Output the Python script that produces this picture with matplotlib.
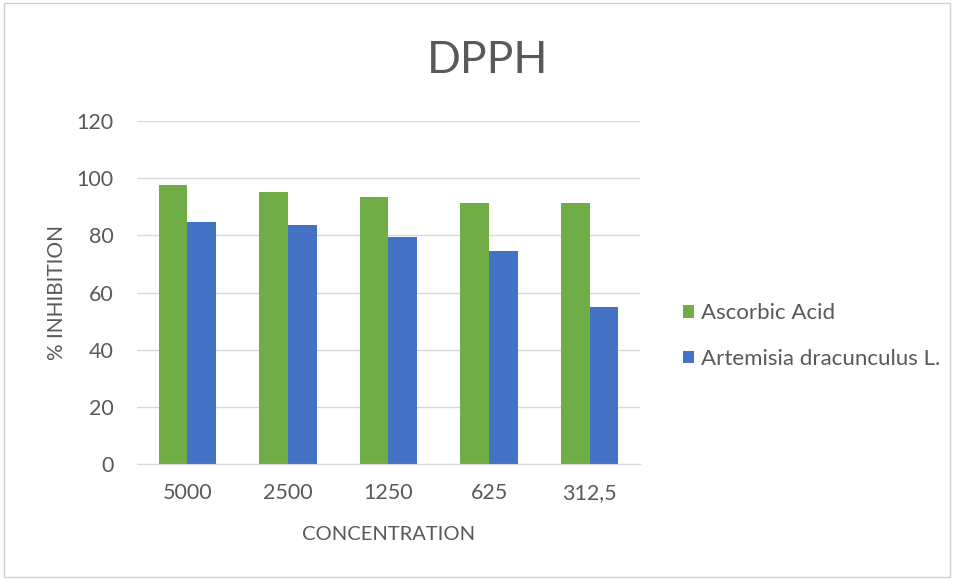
import matplotlib.pyplot as plt
import numpy as np
from matplotlib.patches import Rectangle

plt.rcParams['font.family'] = ['Lato', 'DejaVu Sans']

# data
concentrations = ['5000', '2500', '1250', '625', '312,5']
ascorbic = [97.5, 95.3, 93.4, 91.5, 91.2]
artemisia = [84.6, 83.5, 79.5, 74.6, 54.9]

grey = '#595959'
fig = plt.figure(figsize=(9.58, 5.8), dpi=100)
fig.patches.append(Rectangle((0.004, 0.006), 0.988, 0.988, transform=fig.transFigure,
                             fill=False, edgecolor='#d0d0d0', linewidth=1))
ax = fig.add_axes([0.143, 0.2, 0.525, 0.591])

x = np.arange(len(concentrations))
w = 0.285
ax.bar(x - w / 2, ascorbic, w, color='#70ad47', label='Ascorbic Acid', zorder=2)
ax.bar(x + w / 2, artemisia, w, color='#4472c4', label='Artemisia dracunculus L.', zorder=2)

ax.set_ylim(0, 120)
ax.set_xlim(-0.5, len(concentrations) - 0.5)
ax.set_yticks(range(0, 121, 20))
ax.set_xticks(x)
ax.set_xticklabels(concentrations)
ax.grid(axis='y', color='#d9d9d9', linewidth=1, zorder=0)
for s in ['top', 'right', 'left']:
    ax.spines[s].set_visible(False)
ax.spines['bottom'].set_color('#d9d9d9')
ax.tick_params(length=0, colors=grey, labelsize=15.5)
ax.tick_params(axis='x', pad=14)
ax.tick_params(axis='y', pad=17)

ax.set_xlabel('CONCENTRATION', color=grey, fontsize=14.5, labelpad=16)
ax.set_ylabel('% INHIBITION', color=grey, fontsize=15, labelpad=7)
fig.text(0.509, 0.895, 'DPPH', ha='center', va='center', color=grey, fontsize=32)

leg = ax.legend(loc='center left', bbox_to_anchor=(1.086, 0.373), frameon=False,
                fontsize=16, handlelength=0.5, handleheight=0.5, labelspacing=1.15,
                handletextpad=0.3, borderpad=0, borderaxespad=0)
for t in leg.get_texts():
    t.set_color(grey)

fig.savefig('out.png', dpi=100)
